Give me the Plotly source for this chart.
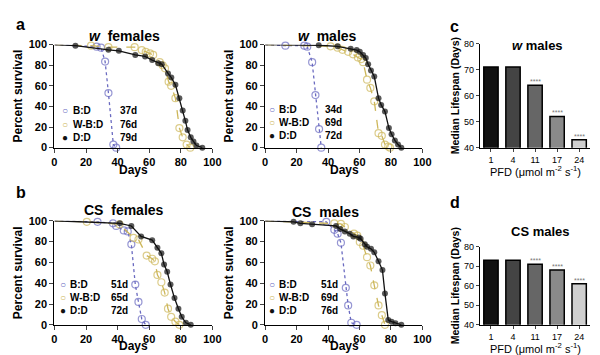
import plotly.graph_objects as go

# ---------------- data ----------------
groups = ["B:D", "W-B:D", "D:D"]

# panel a: w females
a_bd_x = [0, 26.7, 29.5, 32.1, 34.2, 37.3, 39.1]
a_bd_y = [100, 98, 97, 83.5, 53, 3, 0]
a_wbd_x = [0, 23.2, 34.2, 50.8, 55.3, 57.8, 60.5, 62.5, 66.7, 68.5, 70.0, 72.3, 73.9, 76.6, 79.1, 81.2, 83.7, 86.0]
a_wbd_y = [100, 99, 97.5, 97.5, 94.7, 93, 91.5, 90, 83, 80, 77, 64, 60, 48, 19, 10, 3, 0]
a_dd_x = [0, 13.3, 34.2, 40.8, 51.2, 57.4, 61.9, 65.7, 68.0, 71.9, 74.0, 76.6, 79.1, 81.2, 82.9, 84.3, 86.3, 88.0, 89.9, 93.6]
a_dd_y = [100, 99, 95, 94, 90, 88.5, 85, 82, 81, 72, 68, 61, 48, 36, 26, 17, 10, 6, 2, 0]
a_median = ["37d", "76d", "79d"]

# panel (w males)
m_bd_x = [0, 12.9, 24.9, 26.8, 29.9, 32.0, 34.3, 35.7]
m_bd_y = [100, 99, 99, 98, 83, 51, 18, 0]
m_wbd_x = [0, 41.6, 46.1, 49.2, 52.8, 55.9, 59.0, 61.1, 62.3, 64.8, 66.9, 69.4, 72.1, 74.2, 76.2, 78.3, 79.4]
m_wbd_y = [100, 98.4, 97, 95, 93, 90.6, 87.5, 86, 83, 66, 58, 45, 14, 11.5, 3, 1, 0]
m_dd_x = [0, 34.1, 46.1, 54.4, 58.2, 60.2, 62.3, 64.0, 65.5, 67.3, 69.4, 72.1, 73.8, 76.2, 78.7, 80.4, 82.5, 84.5, 86.6]
m_dd_y = [100, 99.4, 98.4, 96, 94.7, 93, 90, 87, 81, 75, 69, 48, 41.5, 35, 19, 13, 7, 3, 0]
m_median = ["34d", "69d", "72d"]

# panel b: CS females
b_bd_x = [0, 27.3, 37.1, 39.1, 43.9, 46.4, 48.7, 51.2, 53.2, 55.3, 57.8]
b_bd_y = [100, 99, 97.5, 95, 90.7, 89.8, 77.4, 38.7, 22, 5.6, 0]
b_wbd_x = [0, 20.5, 41.2, 50.1, 53.2, 58.4, 61.9, 63.6, 65.2, 67.7, 69.8, 71.9, 73.9, 76.6, 79.1]
b_wbd_y = [100, 99, 96.6, 83.6, 82, 66.6, 63.5, 61, 48, 40.9, 31, 15.5, 7.7, 3, 0]
b_dd_x = [0, 41.4, 48.7, 54.9, 61.9, 65.2, 67.7, 69.4, 71.4, 73.5, 76.0, 78.5, 80.6, 83.2, 86.3]
b_dd_y = [100, 97.5, 95, 85, 81.4, 74, 68.7, 58, 51, 38.7, 25.7, 15.5, 7.7, 2, 0]
b_median = ["51d", "65d", "72d"]

# panel (CS males)
n_bd_x = [0, 38.9, 44.0, 46.1, 48.2, 51.3, 52.8, 54.8, 58.2]
n_bd_y = [100, 99, 91.3, 87.6, 78.9, 35.6, 18.6, 2, 0]
n_wbd_x = [0, 44.0, 48.2, 50.7, 56.5, 58.6, 60.2, 62.3, 64.8, 66.9, 69.4, 72.1, 74.2, 76.2]
n_wbd_y = [100, 97.5, 97, 94, 87.6, 85.8, 79.6, 76, 65, 57, 38, 18.6, 9.3, 0]
n_dd_x = [0, 18.1, 22.4, 29.9, 45.1, 47.8, 50.7, 53.8, 56.1, 59.6, 60.7, 63.4, 64.8, 67.3, 69.4, 72.1, 74.6, 76.2, 78.3, 80.4, 82.9, 86.6]
n_dd_y = [100, 99, 97.5, 96.6, 95, 92, 89.8, 87.6, 85, 84, 82.7, 77.4, 75, 73, 69.7, 61, 52.6, 30, 4.6, 3, 1.5, 0]
n_median = ["51d", "69d", "76d"]

# bar panels
pfd = ["1", "4", "11", "17", "24"]
c_median = [71, 71, 64, 52, 43]
d_median = [73, 73, 71, 68, 61]
signif = ["", "", "****", "****", "****"]

surv_ticks = [0, 20, 40, 60, 80, 100]
bar_ticks = [40, 50, 60, 70, 80]

# ---------------- styling ----------------
FONT = "Liberation Sans, Arial, sans-serif"
BLUE = "#6a6ac0"
YELLOW = "#cdb75a"
BLACK = "#111111"
bar_colors = ["#111111", "#444444", "#666666", "#8a8a8a", "#cfcfcf"]

W, H = 600, 355
def px(x): return x / W
def py(y): return 1 - y / H

fig = go.Figure()

panels = [
    ("x", "y", (a_bd_x, a_bd_y), (a_wbd_x, a_wbd_y), (a_dd_x, a_dd_y)),
    ("x2", "y2", (m_bd_x, m_bd_y), (m_wbd_x, m_wbd_y), (m_dd_x, m_dd_y)),
    ("x3", "y3", (b_bd_x, b_bd_y), (b_wbd_x, b_wbd_y), (b_dd_x, b_dd_y)),
    ("x4", "y4", (n_bd_x, n_bd_y), (n_wbd_x, n_wbd_y), (n_dd_x, n_dd_y)),
]
for xa, ya, bd, wbd, dd in panels:
    for (xs, ys), col, dash, sym, msize, mlw in [
            (bd, BLUE, "dot", "circle-open", 7, 1.2),
            (wbd, YELLOW, "dash", "circle-open", 7, 1.2),
            (dd, BLACK, "solid", "circle", 6, 0)]:
        sizes = [0] + [msize] * (len(xs) - 1)
        fig.add_trace(go.Scatter(
            x=xs, y=ys, xaxis=xa, yaxis=ya, mode="lines+markers",
            line=dict(color=col, width=1.3, dash=dash),
            marker=dict(symbol=sym, size=sizes, color=col,
                        line=dict(color=col, width=mlw)),
            cliponaxis=False, showlegend=False))

idx = list(range(len(pfd)))
for xa, ya, vals in [("x5", "y5", c_median), ("x6", "y6", d_median)]:
    fig.add_trace(go.Bar(
        x=idx, y=vals, xaxis=xa, yaxis=ya, width=0.65,
        marker=dict(color=bar_colors, line=dict(color="black", width=1.5)),
        showlegend=False))

bold12 = dict(family=FONT, size=12, color="black", weight="bold")
tickfont = dict(family=FONT, size=11, color="black", weight="bold")
common = dict(ticks="outside", ticklen=4, tickwidth=1.3, showline=True,
              linecolor="black", linewidth=1.3, showgrid=False, zeroline=False)
surv_x = dict(common, range=[0, 100], tickvals=surv_ticks, tickfont=tickfont)
surv_y = dict(common, range=[0, 100], tickvals=surv_ticks, tickfont=tickfont,
              title=dict(text="Percent survival", standoff=3, font=bold12))
small = dict(family=FONT, size=9, color="black")
bar_x = dict(common, range=[-0.5, len(pfd) - 0.5], tickvals=idx, ticktext=pfd,
             ticklen=3, tickfont=small)
bar_y = dict(common, range=[40, 80], tickvals=bar_ticks, ticklen=3, tickfont=small,
             title=dict(text="Median Lifespan (Days)", standoff=2,
                        font=dict(family=FONT, size=10.5, color="black", weight="bold")))

ax_left = [px(44.3), px(205.5)]
ax_right = [px(259.3), px(419.8)]
y_top = [py(138.3), py(31.7)]
y_bot = [py(321.7), py(214)]

fig.update_layout(
    width=W, height=H, margin=dict(l=0, r=0, t=0, b=0),
    paper_bgcolor="white", plot_bgcolor="rgba(0,0,0,0)",
    font=dict(family=FONT, color="black"),
    xaxis=dict(surv_x, domain=ax_left, anchor="y"),
    yaxis=dict(surv_y, domain=y_top, anchor="x"),
    xaxis2=dict(surv_x, domain=ax_right, anchor="y2"),
    yaxis2=dict(surv_y, domain=y_top, anchor="x2"),
    xaxis3=dict(surv_x, domain=ax_left, anchor="y3"),
    yaxis3=dict(surv_y, domain=y_bot, anchor="x3"),
    xaxis4=dict(surv_x, domain=ax_right, anchor="y4"),
    yaxis4=dict(surv_y, domain=y_bot, anchor="x4"),
    xaxis5=dict(bar_x, domain=[px(478.5), px(591)], anchor="y5"),
    yaxis5=dict(bar_y, domain=[py(138.3), py(30.7)], anchor="x5"),
    xaxis6=dict(bar_x, domain=[px(478.5), px(591)], anchor="y6"),
    yaxis6=dict(bar_y, domain=[py(321.7), py(240.7)], anchor="x6"),
)

ann = []
def text(x, y, s, size, xanchor="center", yanchor="middle", color="black"):
    ann.append(dict(x=px(x), y=py(y), xref="paper", yref="paper", text=s,
                    showarrow=False, xanchor=xanchor, yanchor=yanchor, borderpad=0,
                    font=dict(family=FONT, size=size, color=color)))

# panel letters
text(10, 11, "<b>a</b>", 16)
text(10, 185, "<b>b</b>", 16)
text(453, 13, "<b>c</b>", 16)
text(453, 195, "<b>d</b>", 16)

# titles
text(116, 23, "<b><i>w</i>  females</b>", 14)
text(323, 23, "<b><i>w</i>  males</b>", 14)
text(115, 203, "<b>CS  females</b>", 14)
text(321, 205, "<b>CS  males</b>", 14)
text(537, 33, "<b><i>w</i> males</b>", 13)
text(540, 225, "<b>CS males</b>", 13)

# x axis titles
for tx in [125, 340]:
    text(tx, 161, "<b>Days</b>", 12)
    text(tx, 344, "<b>Days</b>", 12)
pfd_title = "PFD (\u03bcmol m<sup>-2</sup> s<sup>-1</sup>)"
text(535, 163, pfd_title, 11)
text(535, 346, pfd_title, 11)

# legends
legend_specs = [
    (55, 62, 110, [100, 114, 127.5], a_median),
    (266.7, 272, 319, [98.5, 112.3, 126], m_median),
    (52.7, 59.3, 101, [280, 293.5, 307], b_median),
    (266.7, 272.7, 315, [279.5, 293.3, 307], n_median),
]
sym_txt = ["\u25cb", "\u25cb", "\u25cf"]
sym_col = [BLUE, YELLOW, BLACK]
for sx, tx, mx, ys, meds in legend_specs:
    for i in range(3):
        text(sx, ys[i], sym_txt[i], 10, color=sym_col[i])
        text(tx, ys[i], "<b>" + groups[i] + "</b>", 10, xanchor="left")
        text(mx, ys[i], "<b>" + meds[i] + "</b>", 10, xanchor="left")

# significance stars
for xa, ya, vals in [("x5", "y5", c_median), ("x6", "y6", d_median)]:
    for i, v, s in zip(idx, vals, signif):
        if s:
            ann.append(dict(x=i, y=v, xref=xa, yref=ya, text=s, showarrow=False,
                            yanchor="bottom", yshift=-1, borderpad=0,
                            font=dict(family=FONT, size=7, color="#777777")))

fig.update_layout(annotations=ann)
fig.write_html("out.html")
